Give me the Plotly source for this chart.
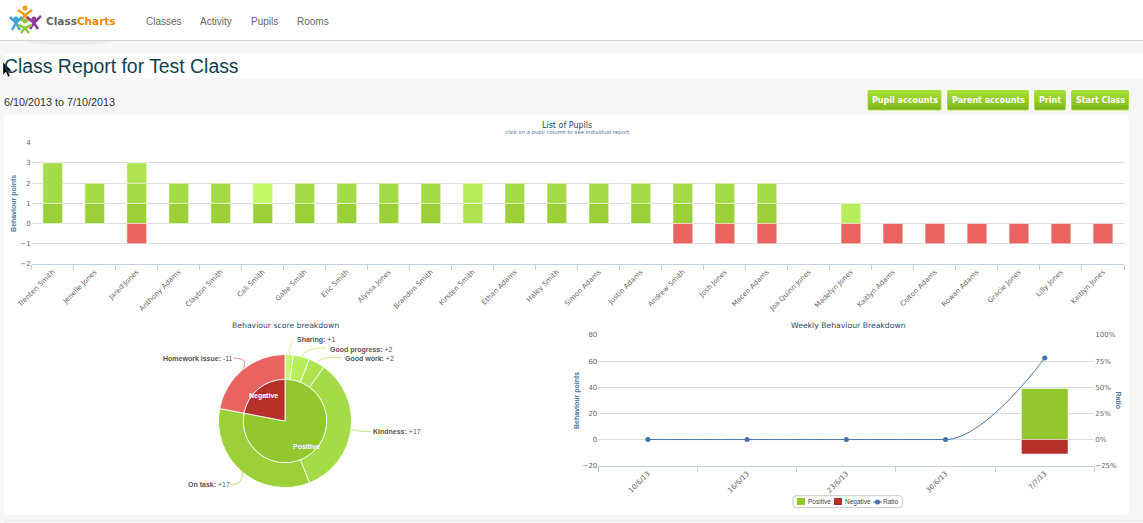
import math
import plotly.graph_objects as go

W, H = 1143, 523

# data
pupils = ["Trenten Smith", "Jenelle Jones", "Jared Jones", "Anthony Adams", "Clayton Smith", "Cali Smith",
          "Gabe Smith", "Eric Smith", "Alyssa Jones", "Brandon Smith", "Kirsten Smith", "Ethan Adams",
          "Haley Smith", "Simon Adams", "Justin Adams", "Andrew Smith", "Josh Jones", "Macen Adams",
          "Joa Quinn Jones", "Madelyn Jones", "Kaitlyn Adams", "Colton Adams", "Rowan Adams", "Gracie Jones",
          "Lilly Jones", "Kaitlyn Jones"]
on_task = [1, 1, 1, 1, 1, 1, 1, 1, 1, 1, 0, 1, 1, 1, 1, 1, 1, 1, 0, 0, 0, 0, 0, 0, 0, 0]
kindness = [2, 1, 1, 1, 1, 0, 1, 1, 1, 1, 0, 1, 1, 1, 1, 1, 1, 1, 0, 0, 0, 0, 0, 0, 0, 0]
good_work = [0, 0, 1, 0, 0, 0, 0, 0, 0, 0, 1, 0, 0, 0, 0, 0, 0, 0, 0, 0, 0, 0, 0, 0, 0, 0]
good_progress = [0, 0, 0, 0, 0, 0, 0, 0, 0, 0, 1, 0, 0, 0, 0, 0, 0, 0, 0, 1, 0, 0, 0, 0, 0, 0]
sharing = [0, 0, 0, 0, 0, 1, 0, 0, 0, 0, 0, 0, 0, 0, 0, 0, 0, 0, 0, 0, 0, 0, 0, 0, 0, 0]
homework = [0, 0, -1, 0, 0, 0, 0, 0, 0, 0, 0, 0, 0, 0, 0, -1, -1, -1, 0, -1, -1, -1, -1, -1, -1, -1]

breakdown_labels = ["Sharing", "Good progress", "Good work", "Kindness", "On task", "Homework issue"]
breakdown_values = [1, 2, 2, 17, 17, 11]
breakdown_signed = ["+1", "+2", "+2", "+17", "+17", "-11"]
group_labels = ["Positive", "Negative"]
group_values = [39, 11]

weeks = ["10/6/13", "16/6/13", "23/6/13", "30/6/13", "7/7/13"]
weekly_positive = [0, 0, 0, 0, 39]
weekly_negative = [0, 0, 0, 0, -11]
weekly_ratio = [0, 0, 0, 0, 78]

nav_items = ["Classes", "Activity", "Pupils", "Rooms"]
button_labels = ["Pupil accounts", "Parent accounts", "Print", "Start Class"]

# colours
C_ON_TASK = "#9BD039"
C_KINDNESS = "#A5DB47"
C_WORK = "#AEE251"
C_PROGRESS = "#B8EE5C"
C_SHARING = "#C2F766"
C_HOMEWORK = "#E96360"
C_POS = "#92C72D"
C_NEG = "#B72F29"
C_RATIO = "#4572A7"
GRID = "#DEDEDE"
AXIS = "#C0D0E0"
TICK_TEXT = "#666666"
TITLE_TEXT = "#274B6D"
AXIS_TITLE = "#4D759E"
FONT = "DejaVu Sans"
PAGE_FONT = "Liberation Sans"


def px(x):
    return x / W


def py(y):
    return 1 - y / H


def dom_x(a, b):
    return [px(a), px(b)]


def dom_y(top, bottom):
    return [py(bottom), py(top)]


annotations = []
shapes = []


def note(text, x, y, size=7, color=TICK_TEXT, anchor="left", family=FONT, angle=0):
    # annotations carry about 2px of padding
    shift = {"left": -2, "right": 2, "center": 0}[anchor]
    annotations.append(dict(text=text, x=px(x + shift), y=py(y), xref="paper", yref="paper", showarrow=False,
                            xanchor=anchor, yanchor="middle", textangle=angle,
                            font=dict(size=size, color=color, family=family)))


def rect(x0, y0, x1, y1, fill, line=None):
    shapes.append(dict(type="rect", xref="paper", yref="paper", x0=px(x0), x1=px(x1), y0=py(y0), y1=py(y1),
                       fillcolor=fill, line=dict(width=1 if line else 0, color=line or fill), layer="below"))


def dot(x, y, r, fill):
    shapes.append(dict(type="circle", xref="paper", yref="paper", x0=px(x - r), x1=px(x + r), y0=py(y + r),
                       y1=py(y - r), fillcolor=fill, line=dict(width=0), layer="below"))


def path(points, line_color=None, fill=None, width=1, layer="below"):
    # points are pixel positions written as a small svg path
    d = ""
    for item in points:
        if isinstance(item, str):
            d += item + " "
        else:
            d += f"{px(item[0]):.5f},{py(item[1]):.5f} "
    shapes.append(dict(type="path", xref="paper", yref="paper", path=d.strip(), layer=layer,
                       fillcolor=fill or "rgba(0,0,0,0)",
                       line=dict(color=line_color or "rgba(0,0,0,0)", width=width)))


def rounded(x0, y0, x1, y1, r, fill, line=None):
    path(["M", (x0 + r, y0), "L", (x1 - r, y0), "Q", (x1, y0), (x1, y0 + r), "L", (x1, y1 - r), "Q", (x1, y1),
          (x1 - r, y1), "L", (x0 + r, y1), "Q", (x0, y1), (x0, y1 - r), "L", (x0, y0 + r), "Q", (x0, y0),
          (x0 + r, y0), "Z"], fill=fill, line_color=line)


def blanks(vals):
    # zero height bars would paint over the gridline
    return [v if v != 0 else None for v in vals]


# page furniture
shapes.append(dict(type="circle", xref="paper", yref="paper", x0=px(25), x1=px(115), y0=py(45), y1=py(36),
                   fillcolor="rgba(0,0,0,0.05)", line=dict(width=0), layer="below"))
rect(0, 0, W, 40, "white")
rect(0, 40, W, 41, "#D5D5D5")
rect(4, 54, W, 78, "white")
rounded(4, 115, 1129, 515, 4, "white")
rect(4, 520.5, W, 521.5, "#E8E8E8")

# logo
for hx, hy, body, col in [(25, 8, [(18, 10), (25, 15), (32, 10), "M", (25, 15), "L", (21, 21), "M", (25, 15), "L", (29, 21)], "#F39C12"),
                          (16, 19, [(10, 17), (16, 23), (22, 17), "M", (16, 23), "L", (12, 30), "M", (16, 23), "L", (20, 30)], "#3FA4DC"),
                          (34, 19, [(41, 16), (34, 23), (27, 17), "M", (34, 23), "L", (30, 29), "M", (34, 23), "L", (38, 29)], "#8E3C9E"),
                          (25, 21, [(18, 25), (25, 28), (32, 25), "M", (25, 28), "L", (21, 33), "M", (25, 28), "L", (29, 33)], "#8CC63F")]:
    path(["M", body[0], "L", body[1], "L", body[2]] + body[3:], line_color=col, width=2.5)
    dot(hx, hy, 2.5, col)
annotations.append(dict(text="<b><span style='color:#666666'>Class</span><span style='color:#F08A00'>Charts</span></b>",
                        x=px(43.5), y=py(21), xref="paper", yref="paper", showarrow=False, xanchor="left",
                        yanchor="middle", font=dict(size=10.5, family=FONT)))

for label, x in zip(nav_items, [146, 200, 251, 297]):
    note(label, x, 22, 10, "#666666", family=PAGE_FONT)
note("Class Report for Test Class", 4, 66, 19.4, "#123F52", family=PAGE_FONT)
note("6/10/2013 to 7/10/2013", 4, 102, 10.8, "#333333", family=PAGE_FONT)

# buttons
for label, (x0, x1) in zip(button_labels, [(867.5, 941.5), (947, 1029), (1034, 1066), (1071, 1129)]):
    rounded(x0, 90, x1, 110.5, 2, "#A6DC3C")
    steps = ["#A4DB33", "#9FD630", "#9AD02C", "#94CA28", "#8DC324", "#86BC20", "#7FB51C"]
    for i, col in enumerate(steps):
        rect(x0 + 1, 91 + i * 2.65, x1 - 1, 91 + (i + 1) * 2.65, col)
    note("<b>" + label + "</b>", (x0 + x1) / 2, 100.5, 8, "white", anchor="center")

# top chart
traces = []
bar_style = dict(width=1, color="rgba(255,255,255,0.5)")
for name, vals, col in [("On task", on_task, C_ON_TASK), ("Kindness", kindness, C_KINDNESS),
                        ("Good work", good_work, C_WORK), ("Good progress", good_progress, C_PROGRESS),
                        ("Sharing", sharing, C_SHARING), ("Homework issue", homework, C_HOMEWORK)]:
    traces.append(go.Bar(x=pupils, y=blanks(vals), name=name, marker=dict(color=col, line=bar_style),
                         showlegend=False, xaxis="x", yaxis="y", width=0.47))

# weekly chart
traces.append(go.Bar(x=weeks, y=blanks(weekly_positive), name="Positive", xaxis="x2", yaxis="y2", width=0.47,
                     marker=dict(color=C_POS, line=bar_style), showlegend=False))
traces.append(go.Bar(x=weeks, y=blanks(weekly_negative), name="Negative", xaxis="x2", yaxis="y2", width=0.47,
                     marker=dict(color=C_NEG, line=bar_style), showlegend=False))
traces.append(go.Scatter(x=weeks, y=weekly_ratio, name="Ratio", xaxis="x2", yaxis="y3", mode="markers",
                         marker=dict(color=C_RATIO, size=5), showlegend=False))

# plotly's spline dips under the flat part, so the ratio curve goes on the same axes as a path
ratio_path = f"M 0,{weekly_ratio[0]}"
for i in range(1, len(weekly_ratio)):
    before = i if i == len(weekly_ratio) - 1 else i - 0.4
    ratio_path += f" C {i - 0.6},{weekly_ratio[i - 1]} {before},{weekly_ratio[i]} {i},{weekly_ratio[i]}"
shapes.append(dict(type="path", xref="x2", yref="y3", path=ratio_path, layer="above",
                   line=dict(color=C_RATIO, width=1)))

# legend box for the weekly chart
rounded(793, 495.7, 902.7, 507.7, 3, "white", line="#C8C8C8")
rect(797, 498, 805, 505, C_POS)
note("Positive", 807.5, 501.7, 6.5, "#444444", family=PAGE_FONT)
rect(834, 498, 842, 505, C_NEG)
note("Negative", 844.5, 501.7, 6.5, "#444444", family=PAGE_FONT)
path(["M", (873, 502), "L", (882, 502)], line_color=C_RATIO, width=1)
dot(877.5, 502, 2.5, C_RATIO)
note("Ratio", 883.5, 501.7, 6.5, "#444444", family=PAGE_FONT)

# pie chart
PIE_X, PIE_Y, PIE_R, PIE_INNER = 285, 421, 66.5, 41.7
outer_colors = [C_SHARING, C_PROGRESS, C_WORK, C_KINDNESS, C_ON_TASK, C_HOMEWORK]
traces.append(go.Pie(labels=breakdown_labels, values=breakdown_values, sort=False, direction="clockwise",
                     rotation=0, hole=PIE_INNER / PIE_R, textinfo="none", showlegend=False,
                     marker=dict(colors=outer_colors, line=dict(color="rgba(255,255,255,0.85)", width=1)),
                     domain=dict(x=dom_x(PIE_X - PIE_R, PIE_X + PIE_R), y=dom_y(PIE_Y - PIE_R, PIE_Y + PIE_R))))
traces.append(go.Pie(labels=group_labels, values=group_values, sort=False, direction="clockwise", rotation=0,
                     textinfo="none", showlegend=False,
                     marker=dict(colors=[C_POS, C_NEG], line=dict(color="rgba(255,255,255,0.85)", width=1)),
                     domain=dict(x=dom_x(PIE_X - PIE_INNER, PIE_X + PIE_INNER),
                                 y=dom_y(PIE_Y - PIE_INNER, PIE_Y + PIE_INNER))))


def slice_points(values, radius):
    # middle of each slice, clockwise from twelve o'clock
    total = sum(values)
    done = 0
    out = []
    for v in values:
        a = (done + v / 2) / total * 2 * math.pi
        out.append((PIE_X + radius * math.sin(a), PIE_Y - radius * math.cos(a)))
        done += v
    return out


# labels inside the inner ring
for label, (x, y) in zip(group_labels, slice_points(group_values, 33)):
    note("<b>" + label + "</b>", x, y, 7, "white", anchor="center", family=PAGE_FONT)

# labels around the outer ring, with their connector bends and text anchors
label_spots = [((289.5, 343), (295, 340), (296.5, 339.7), "left"),
               ((304, 348), (326, 347.7), (330, 349.7), "left"),
               ((323, 355.7), (342, 357.7), (344.5, 358.7), "left"),
               ((360, 432), (370, 431.5), (372.5, 431.5), "left"),
               ((243, 485), (231, 484.5), (230, 484.3), "right"),
               ((250, 358), (233, 358), (232.5, 358.7), "right")]
for label, signed, start, spot, col in zip(breakdown_labels, breakdown_signed, slice_points(breakdown_values, PIE_R),
                                           label_spots, outer_colors):
    bend, end, text_at, anchor = spot
    path(["M", start, "Q", bend, end], line_color=col, width=0.7)
    note(f"<b>{label}:</b> {signed}", text_at[0], text_at[1], 7, "#555555", anchor=anchor, family=PAGE_FONT)

# chart titles
note("List of Pupils", 566.5, 125, 8, TITLE_TEXT, anchor="center")
note("click on a pupil column to see individual report", 566.5, 133, 5.3, AXIS_TITLE, anchor="center")
note("Behaviour score breakdown", 285, 325, 7.7, TITLE_TEXT, anchor="center")
note("Weekly Behaviour Breakdown", 848, 325, 7.7, TITLE_TEXT, anchor="center")
note("<b>Ratio</b>", 1118.5, 400, 7, AXIS_TITLE, anchor="center", angle=90, family=PAGE_FONT)

# cursor
path(["M", (3, 62), "L", (3, 75), "L", (6, 72), "L", (8, 77), "L", (10, 76), "L", (8, 71), "L", (12, 71), "Z"],
     line_color="white", fill="black", width=0.5, layer="above")

tick_font = dict(size=7, color=TICK_TEXT, family=FONT)
title_font = dict(size=7, color=AXIS_TITLE, family=PAGE_FONT)
x_style = dict(type="category", tickson="boundaries", ticks="outside", ticklen=5, tickwidth=1, tickcolor=AXIS,
               showline=True, linecolor=AXIS, linewidth=1, showgrid=False, tickangle=-45, tickfont=tick_font,
               fixedrange=True, zeroline=False, automargin=False)
y_style = dict(showgrid=True, gridcolor=GRID, gridwidth=1, zeroline=False, tickfont=tick_font, ticks="",
               fixedrange=True, showline=False, automargin=False)

fig = go.Figure(traces)
fig.update_layout(
    width=W, height=H, autosize=False, margin=dict(l=0, r=0, t=0, b=0), paper_bgcolor="#F7F7F7",
    plot_bgcolor="rgba(0,0,0,0)", barmode="relative", hovermode=False, font=dict(family=FONT),
    showlegend=False,
    xaxis=dict(domain=dom_x(31.7, 1124), anchor="y", categoryorder="array", categoryarray=pupils, **x_style),
    yaxis=dict(domain=dom_y(142.7, 264), anchor="x", range=[-2, 4], dtick=1,
               title=dict(text="<b>Behaviour points</b>", font=title_font, standoff=2), **y_style),
    xaxis2=dict(domain=dom_x(598.3, 1094.3), anchor="y2", categoryorder="array", categoryarray=weeks, **x_style),
    yaxis2=dict(domain=dom_y(335, 465.7), anchor="x2", range=[-20, 80], dtick=20,
                title=dict(text="<b>Behaviour points</b>", font=title_font, standoff=2), **y_style),
    yaxis3=dict(domain=dom_y(335, 465.7), anchor="x2", overlaying="y2", side="right", range=[-25, 100], dtick=25,
                ticksuffix="%", showgrid=False, zeroline=False, tickfont=tick_font, fixedrange=True,
                automargin=False),
    annotations=annotations, shapes=shapes,
)

fig.write_html("out.html", config=dict(displayModeBar=False),
               post_script="document.body.style.margin='0';document.body.style.overflow='hidden';")
